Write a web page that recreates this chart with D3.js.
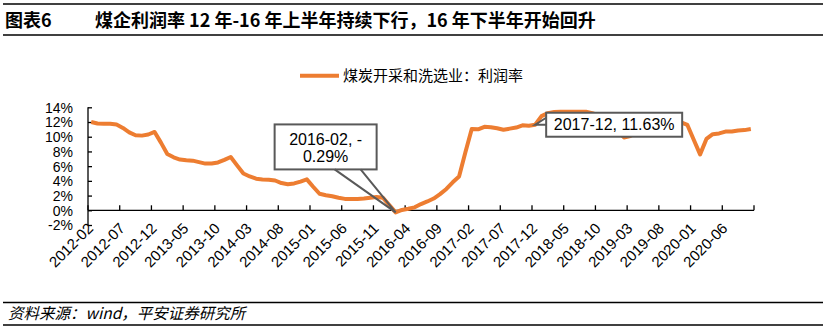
<!DOCTYPE html>
<html>
<head>
<meta charset="utf-8">
<script src="https://cdn.jsdelivr.net/npm/d3@7/dist/d3.min.js"></script>
<style>
  html, body { margin: 0; padding: 0; background: #fff; }
  svg { display: block; }
  .latin { font-family: "Liberation Sans", Arial, sans-serif; }
  .cjk { font-family: "Noto Sans CJK SC", "Liberation Sans", sans-serif; }
</style>
</head>
<body>
<svg id="chart" width="827" height="332"></svg>
<script>
// Monthly categories, 2012-02 to 2020-10
const months = [
  "2012-02","2012-03","2012-04","2012-05","2012-06","2012-07","2012-08","2012-09","2012-10","2012-11","2012-12",
  "2013-01","2013-02","2013-03","2013-04","2013-05","2013-06","2013-07","2013-08","2013-09","2013-10","2013-11","2013-12",
  "2014-01","2014-02","2014-03","2014-04","2014-05","2014-06","2014-07","2014-08","2014-09","2014-10","2014-11","2014-12",
  "2015-01","2015-02","2015-03","2015-04","2015-05","2015-06","2015-07","2015-08","2015-09","2015-10","2015-11","2015-12",
  "2016-01","2016-02","2016-03","2016-04","2016-05","2016-06","2016-07","2016-08","2016-09","2016-10","2016-11","2016-12",
  "2017-01","2017-02","2017-03","2017-04","2017-05","2017-06","2017-07","2017-08","2017-09","2017-10","2017-11","2017-12",
  "2018-01","2018-02","2018-03","2018-04","2018-05","2018-06","2018-07","2018-08","2018-09","2018-10","2018-11","2018-12",
  "2019-01","2019-02","2019-03","2019-04","2019-05","2019-06","2019-07","2019-08","2019-09","2019-10","2019-11","2019-12",
  "2020-01","2020-02","2020-03","2020-04","2020-05","2020-06","2020-07","2020-08","2020-09","2020-10"
];

// 煤炭开采和洗选业：利润率 (%)
const profitRate = [
  12.0, 11.8, 11.75, 11.75, 11.65, 11.2, 10.6, 10.2, 10.15, 10.3,
  10.65, 9.2, 7.65, 7.2, 6.9, 6.8, 6.75, 6.55, 6.35, 6.35,
  6.5, 6.85, 7.25, 6.1, 5.0, 4.6, 4.3, 4.2, 4.15, 4.05,
  3.7, 3.55, 3.65, 3.9, 4.2, 3.2, 2.25, 2.05, 1.9, 1.7,
  1.55, 1.55, 1.55, 1.6, 1.7, 1.8, 1.7, 0.7, -0.29, 0.05,
  0.2, 0.4, 0.85, 1.2, 1.6, 2.2, 2.9, 3.8, 4.6, 7.9,
  11.05, 11.0, 11.35, 11.3, 11.15, 10.95, 11.1, 11.25, 11.55, 11.5,
  11.63, 12.8, 13.2, 13.35, 13.4, 13.4, 13.4, 13.4, 13.4, 13.2,
  12.9, 12.3, 11.6, 10.8, 9.9, 10.1, 10.6, 11.0, 11.3, 11.5,
  11.6, 11.8, 11.9, 11.95, 11.6, 9.6, 7.6, 9.7, 10.35, 10.45,
  10.7, 10.7, 10.85, 10.9, 11.05
];

const yTicks = [-2, 0, 2, 4, 6, 8, 10, 12, 14];
const labelEvery = 5;
const seriesName = "煤炭开采和洗选业：利润率";
const titleTag = "图表6";
const titleText = "煤企利润率 12 年-16 年上半年持续下行，16 年下半年开始回升";
const sourceText = "资料来源：wind，平安证券研究所";
// Highlighted points: [category, first line, second line]
const callouts = [
  ["2016-02", "2016-02, -", "0.29%"],
  ["2017-12", "2017-12, 11.63%", null]
];

const svg = d3.select("#chart");
const W = 827, H = 332;
const plot = { left: 88, right: 754, top: 107.3, bottom: 225 };
const orange = "#ED7D31";

svg.append("rect").attr("width", W).attr("height", H).attr("fill", "#fff");

// Title band
svg.append("line").attr("x1", 3).attr("x2", 823).attr("y1", 4).attr("y2", 4)
  .attr("stroke", "#000").attr("stroke-width", 1.5);
svg.append("line").attr("x1", 3).attr("x2", 823).attr("y1", 35).attr("y2", 35)
  .attr("stroke", "#000").attr("stroke-width", 1.5);
svg.append("text").attr("class", "cjk").attr("x", 5).attr("y", 27)
  .attr("font-size", 18).attr("font-weight", "bold").attr("fill", "#000").text(titleTag);
svg.append("text").attr("class", "cjk").attr("x", 95).attr("y", 27)
  .attr("font-size", 18).attr("font-weight", "bold").attr("fill", "#000").text(titleText);

// Source band
svg.append("line").attr("x1", 3).attr("x2", 823).attr("y1", 302.5).attr("y2", 302.5)
  .attr("stroke", "#000").attr("stroke-width", 1.5);
svg.append("line").attr("x1", 3).attr("x2", 823).attr("y1", 325).attr("y2", 325)
  .attr("stroke", "#000").attr("stroke-width", 1.5);
svg.append("text").attr("class", "cjk").attr("x", 8).attr("y", 319)
  .attr("font-size", 15.5).attr("font-style", "italic").attr("fill", "#000").text(sourceText);

// Scales
const x = d3.scaleBand().domain(months).range([plot.left, plot.right]).paddingInner(0).paddingOuter(0);
const y = d3.scaleLinear().domain([-2, 14]).range([plot.bottom, plot.top]);
const cx = m => x(m) + x.bandwidth() / 2;

// Y axis
const yAxis = svg.append("g").attr("transform", `translate(${plot.left},0)`)
  .call(d3.axisRight(y).tickValues(yTicks).tickSize(4).tickFormat(d => d + "%"));
yAxis.select(".domain").attr("stroke", "#000").attr("stroke-width", 1.3)
  .attr("d", `M0,${y(14)}V${y(-2)}`);
yAxis.selectAll(".tick line").attr("stroke", "#000").attr("stroke-width", 1.3);
yAxis.selectAll(".tick text").attr("class", "latin").attr("x", -15).attr("dy", "0.35em")
  .attr("text-anchor", "end").attr("font-size", 14).attr("fill", "#000");

// X axis at 0%, tick marks on category boundaries every 5 months
const boundaryIdx = d3.range(0, months.length + 1, labelEvery);
const xAxis = svg.append("g").attr("transform", `translate(0,${y(0)})`);
xAxis.append("line").attr("x1", plot.left).attr("x2", plot.right)
  .attr("stroke", "#000").attr("stroke-width", 1.3);
xAxis.selectAll("line.tk").data(boundaryIdx).join("line").attr("class", "tk")
  .attr("x1", i => i < months.length ? x(months[i]) : x.range()[1])
  .attr("x2", i => i < months.length ? x(months[i]) : x.range()[1])
  .attr("y1", 0).attr("y2", -5).attr("stroke", "#000").attr("stroke-width", 1.3);

const labelMonths = months.filter((m, i) => i % labelEvery === 0);
svg.append("g").selectAll("text").data(labelMonths).join("text")
  .attr("class", "latin")
  .attr("transform", m => `translate(${cx(m) + 3},${y(0) + 19}) rotate(-45)`)
  .attr("text-anchor", "end").attr("font-size", 15).attr("fill", "#000")
  .text(m => m);

// Series line
const line = d3.line().x((d, i) => cx(months[i])).y(d => y(d));
svg.append("path").datum(profitRate).attr("d", line)
  .attr("fill", "none").attr("stroke", orange).attr("stroke-width", 4)
  .attr("stroke-linejoin", "round").attr("stroke-linecap", "butt");

// Legend
svg.append("line").attr("x1", 300).attr("x2", 339).attr("y1", 75.7).attr("y2", 75.7)
  .attr("stroke", orange).attr("stroke-width", 4);
svg.append("text").attr("class", "cjk").attr("x", 343).attr("y", 75.7).attr("dy", "0.35em")
  .attr("font-size", 15).attr("fill", "#000").text(seriesName);

// Callouts
const boxStroke = "#595959";
function callout(cat, l1, l2, shape) {
  const i = months.indexOf(cat);
  const px = cx(cat), py = y(profitRate[i]);
  const g = svg.append("g");
  const b = shape.box;
  g.append("rect").attr("x", px + b[0]).attr("y", py + b[1]).attr("width", b[2]).attr("height", b[3])
    .attr("fill", "#fff").attr("stroke", boxStroke).attr("stroke-width", 2);
  const w = shape.wedge;
  g.append("path").attr("d", `M${px + w[0][0]},${py + w[0][1]}L${px},${py}L${px + w[1][0]},${py + w[1][1]}`)
    .attr("fill", "none").attr("stroke", boxStroke).attr("stroke-width", 2);
  const tx = px + b[0] + b[2] / 2;
  if (l2) {
    g.append("text").attr("class", "latin").attr("x", tx).attr("y", py + b[1] + 21)
      .attr("text-anchor", "middle").attr("font-size", 16).attr("fill", "#000").text(l1);
    g.append("text").attr("class", "latin").attr("x", tx).attr("y", py + b[1] + 38)
      .attr("text-anchor", "middle").attr("font-size", 16).attr("fill", "#000").text(l2);
  } else {
    g.append("text").attr("class", "latin").attr("x", tx).attr("y", py + b[1] + b[3] / 2).attr("dy", "0.35em")
      .attr("text-anchor", "middle").attr("font-size", 16).attr("fill", "#000").text(l1);
  }
}
callout(callouts[0][0], callouts[0][1], callouts[0][2],
  { box: [-121, -88, 102, 45], wedge: [[-61, -43], [-35, -43]] });
callout(callouts[1][0], callouts[1][1], callouts[1][2],
  { box: [11, -12, 136, 24], wedge: [[11, -7], [11, 0]] });
</script>
</body>
</html>
